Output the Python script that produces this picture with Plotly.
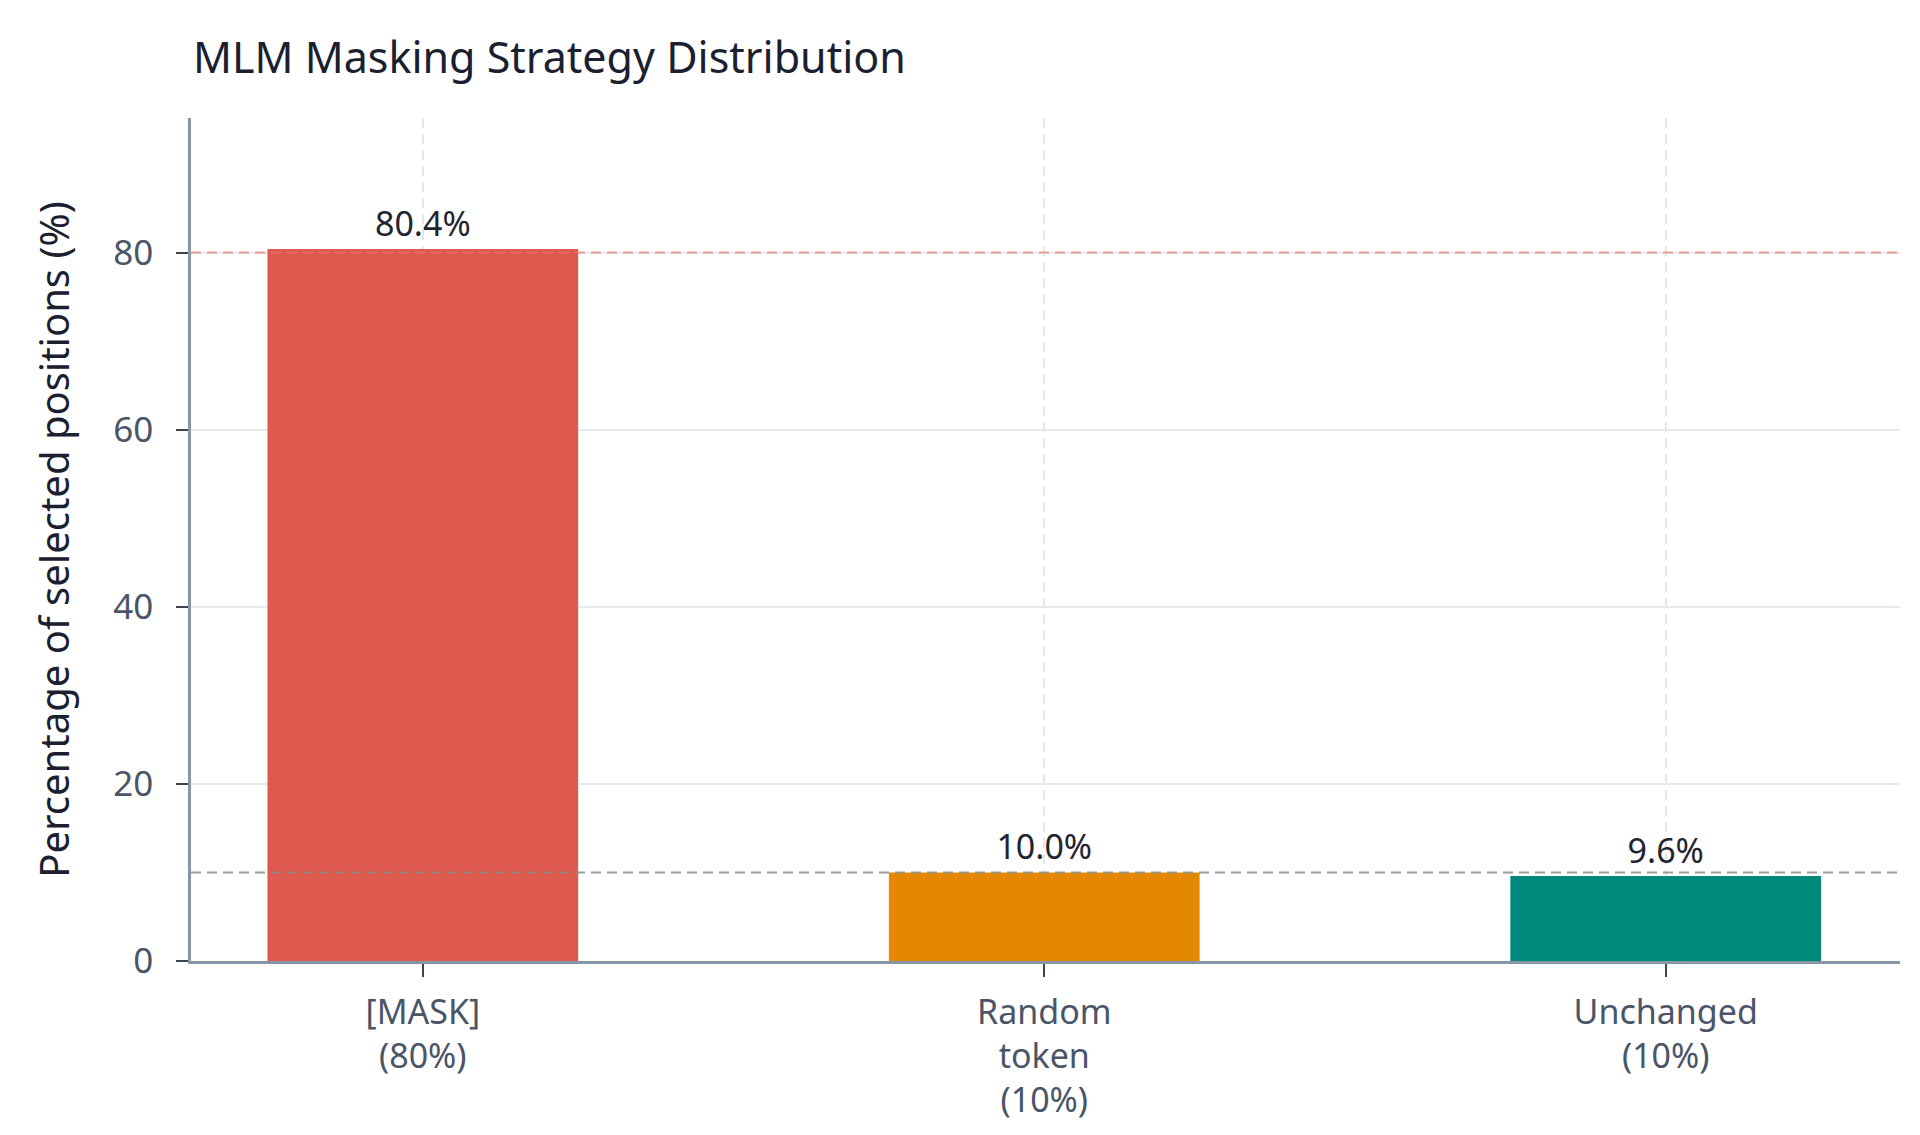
import plotly.graph_objects as go

# masking strategy shares
categories = ["[MASK]<br>(80%)", "Random<br>token<br>(10%)", "Unchanged<br>(10%)"]
percentages = [80.4, 10.0, 9.6]
bar_labels = ["80.4%", "10.0%", "9.6%"]
bar_colors = ["#DF5A4E", "#E38800", "#00897B"]

# expected shares for the reference lines
expected_mask = 80
expected_other = 10

fig = go.Figure()

fig.add_trace(go.Bar(
    x=categories,
    y=percentages,
    text=bar_labels,
    textposition="outside",
    textfont=dict(size=34, color="#1f2430"),
    marker=dict(color=bar_colors, line=dict(width=0)),
    width=0.5,
    cliponaxis=False,
    showlegend=False,
))

# dashed reference lines at the expected ratios
fig.add_hline(y=expected_mask, line=dict(color="rgba(226,120,112,0.7)", width=2, dash="10px,6px"), layer="above")
fig.add_hline(y=expected_other, line=dict(color="rgba(140,140,140,0.85)", width=2, dash="10px,6px"), layer="above")

fig.update_layout(
    width=1920,
    height=1135,
    font=dict(family="Noto Sans", color="#4a5568"),
    title=dict(
        text="MLM Masking Strategy Distribution",
        font=dict(size=43, color="#1a2030"),
        x=185 / 1920,
        xanchor="left",
        xref="container",
        y=1 - 50 / 1135,
        yanchor="middle",
    ),
    plot_bgcolor="white",
    paper_bgcolor="white",
    margin=dict(l=183, r=28, t=110, b=182),
    bargap=0.5,
)

fig.update_xaxes(
    range=[-0.373, 2.377],
    showline=True,
    linecolor="#8795a8",
    linewidth=2.5,
    ticks="outside",
    ticklen=13,
    tickwidth=2,
    tickcolor="#3d4451",
    tickfont=dict(size=34, color="#4a5568"),
    ticklabelstandoff=6,
    showgrid=True,
    gridcolor="#e4e6ea",
    griddash="10px,6px",
    gridwidth=1.5,
)

fig.update_yaxes(
    range=[0, 95.2],
    tickvals=[0, 20, 40, 60, 80],
    showline=True,
    linecolor="#8795a8",
    linewidth=2.5,
    ticks="outside",
    ticklen=12,
    tickwidth=2,
    tickcolor="#3d4451",
    tickfont=dict(size=35, color="#4a5568"),
    ticklabelstandoff=16,
    showgrid=True,
    gridcolor="#e6eaf0",
    gridwidth=2,
    zeroline=False,
    title=dict(
        text="Percentage of selected positions (%)",
        font=dict(size=40, color="#1a2030"),
        standoff=32,
    ),
)

fig.write_html("out.html")
